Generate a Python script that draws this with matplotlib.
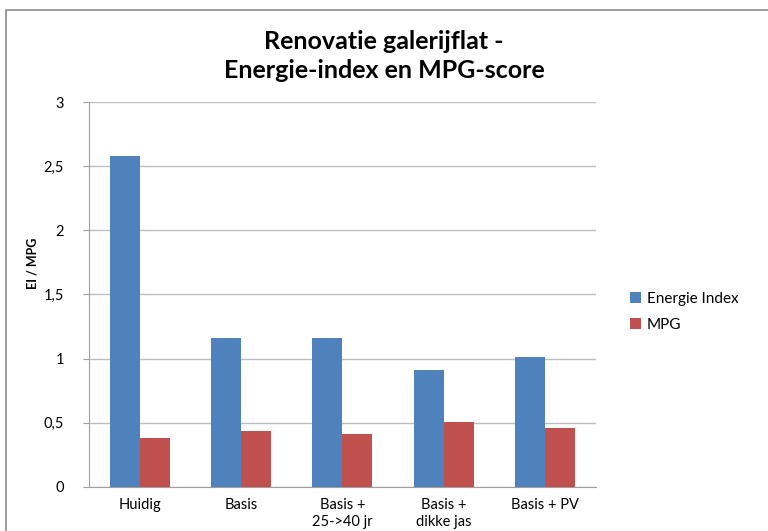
import numpy as np
import matplotlib.pyplot as plt
from matplotlib.patches import Rectangle

categories = ["Huidig", "Basis", "Basis +\n25->40 jr", "Basis +\ndikke jas", "Basis + PV"]
energie_index = [2.58, 1.16, 1.16, 0.91, 1.01]
mpg = [0.38, 0.44, 0.41, 0.51, 0.46]
yticks = [0, 0.5, 1, 1.5, 2, 2.5, 3]
ytick_labels = ["0", "0,5", "1", "1,5", "2", "2,5", "3"]

plt.rcParams['font.family'] = ['Lato', 'DejaVu Sans']

fig = plt.figure(figsize=(7.68, 5.31), dpi=100)
ax = fig.add_axes([0.1159, 0.0829, 0.66, 0.725])

x = np.arange(len(categories))
w = 0.296
ax.bar(x - w / 2, energie_index, w, color="#4F81BD", label="Energie Index", zorder=3)
ax.bar(x + w / 2, mpg, w, color="#C0504D", label="MPG", zorder=3)

ax.set_xlim(-0.5, len(categories) - 0.5)
ax.set_ylim(0, 3)
ax.set_yticks(yticks)
ax.set_yticklabels(ytick_labels, fontsize=10.5)
ax.set_xticks(x)
ax.set_xticklabels(categories, fontsize=10.5, linespacing=1.3)
ax.tick_params(axis="x", length=0, pad=8)
ax.tick_params(axis="y", length=4, color="#A0A0A0", pad=14)
ax.grid(axis="y", color="#BDBDBD", linewidth=1, zorder=0)
for s in ["top", "right"]:
    ax.spines[s].set_visible(False)
for s in ["left", "bottom"]:
    ax.spines[s].set_color("#A0A0A0")
ax.set_ylabel("EI / MPG", fontsize=9, fontweight="bold")
ax.yaxis.set_label_coords(-0.1, 0.58)

fig.text(0.5, 0.895, "Renovatie galerijflat -\nEnergie-index en MPG-score",
         ha="center", va="center", fontsize=18, fontweight="bold", linespacing=1.3)

ax.legend(loc="center left", bbox_to_anchor=(1.04, 0.455), frameon=False,
          fontsize=11, handlelength=0.7, handleheight=0.7, handletextpad=0.4,
          labelspacing=0.75)

fig.patches.append(Rectangle((0.008, -0.01), 1.0, 0.992, transform=fig.transFigure,
                             fill=False, edgecolor="#8C8C8C", linewidth=1.2))

fig.savefig("out.png", dpi=100)
